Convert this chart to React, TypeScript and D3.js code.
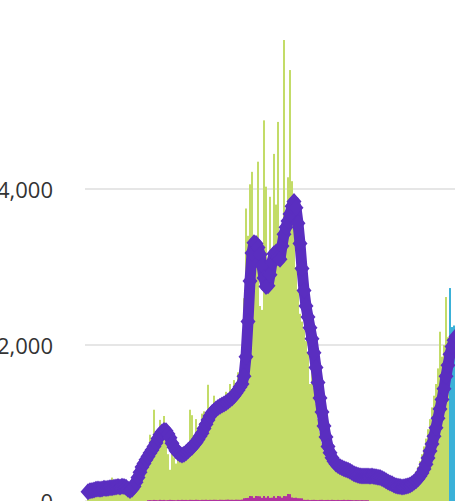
import React from "react";
import * as d3 from "d3";

// y-axis tick values
const yTicks = [0, 2000, 4000];

// daily reported cases (green bars), one value per bar
const dailyCases = [
  110, 140, 130, 160, 150, 170, 140, 150, 180, 160,
  170, 190, 300, 180, 200, 170, 210, 190, 140, 120,
  130, 180, 250, 330, 400, 460, 520, 560, 600, 650,
  700, 850, 760, 1170, 880, 820, 1040, 900, 1090, 800,
  600, 400, 650, 560, 480, 620, 580, 640, 620, 680,
  700, 1170, 1100, 800, 1050, 900, 1000, 1120, 1150, 1080,
  1490, 1200, 1100, 1350, 1250, 1180, 1300, 1320, 1200, 1400,
  1380, 1500, 1300, 1550, 1420, 1650, 1500, 1650, 2600, 3750,
  3400, 4060, 4220, 3200, 3300, 4350, 2500, 2450, 4880, 4030,
  2950, 3900, 3100, 4450, 3800, 4860, 3300, 3500, 5910, 3700,
  4150, 5525, 4100, 3500, 3000, 2700, 2400, 2300, 2200, 2050,
  1900, 1500, 1700, 1450, 1250, 1050, 880, 740, 640, 560,
  500, 460, 440, 420, 430, 400, 390, 380, 370, 360,
  350, 340, 330, 320, 315, 320, 310, 315, 320, 310,
  305, 300, 295, 290, 280, 265, 250, 235, 220, 210,
  200, 190, 180, 175, 170, 175, 180, 190, 200, 215,
  235, 260, 290, 330, 380, 440, 510, 600, 700, 800,
  920, 1050, 1200, 1350, 1500, 1700, 2170, 1850, 2000, 2615,
  2100,
];

// most recent (provisional) days, blue bars, following dailyCases
const provisionalCases = [2730, 2230, 2250, 2300];

// small secondary series at the bottom (magenta bars)
const otherCases = [
  0, 0, 0, 0, 0, 0, 0, 0, 0, 0,
  0, 0, 0, 0, 0, 0, 0, 0, 0, 0,
  0, 0, 0, 0, 0, 0, 0, 0, 0, 0,
  10, 12, 10, 14, 12, 10, 15, 12, 14, 10,
  12, 15, 13, 12, 10, 14, 12, 15, 13, 14,
  12, 15, 14, 13, 16, 14, 12, 15, 14, 16,
  13, 15, 14, 16, 15, 13, 16, 15, 14, 16,
  18, 15, 16, 14, 17, 16, 15, 18,
  35, 38, 40, 64, 62, 40, 64, 62, 60, 40,
  64, 42, 62, 40, 42, 62, 40, 64, 60, 42,
  64, 62, 90, 88, 45, 40, 42, 36, 35, 34,
  15, 14, 16, 12, 14, 15, 13, 12, 14, 15,
  12, 13, 14, 12, 15, 13, 12, 14, 12, 13,
  15, 12, 14, 13, 12, 10, 12, 11, 10, 12,
  10, 11, 10,
  0, 0, 0, 0, 0, 0, 0, 0, 0, 0,
  0, 0, 0, 0, 0, 0, 0, 0, 0, 0,
  0, 0, 0, 0, 0, 0, 0, 0, 0, 0,
  0, 0, 0, 0, 0, 0, 0, 0, 0, 0,
  0, 0, 0, 0,
];

// 7-day average (purple line with diamond markers)
const sevenDayAvg = [
  120, 130, 135, 140, 150, 155, 150, 155, 165, 160,
  165, 170, 170, 175, 180, 185, 180, 190, 185, 175,
  150, 135, 150, 185, 240, 300, 370, 435, 480, 530,
  570, 615, 655, 700, 745, 800, 850, 885, 905, 900,
  860, 810, 740, 690, 645, 620, 600, 590, 600, 620,
  645, 670, 690, 720, 750, 790, 830, 870, 930, 985,
  1040, 1090, 1130, 1155, 1180, 1200, 1215, 1230, 1245, 1260,
  1280, 1300, 1320, 1350, 1385, 1420, 1460, 1500, 1600, 1850,
  2300, 2820, 3180, 3310, 3300, 3250, 3160, 3020, 2860, 2750,
  2760, 2900, 3060, 3170, 3190, 3120, 3100, 3270, 3420, 3510,
  3590, 3680, 3780, 3840, 3760, 3560, 3300, 2980, 2700, 2500,
  2360, 2220, 2080, 1900, 1710, 1520, 1320, 1140, 960, 820,
  700, 620, 555, 510, 475, 455, 440, 425, 415, 405,
  395, 380, 365, 350, 340, 330, 325, 320, 320, 322,
  320, 318, 320, 315, 310, 305, 300, 290, 275, 260,
  245, 230, 220, 205, 195, 190, 185, 180, 182, 188,
  195, 205, 220, 240, 260, 285, 320, 360, 410, 470,
  550, 640, 730, 830, 940, 1060, 1180, 1300, 1440, 1600,
  1740, 1880, 1980, 2060, 2110,
];

const W = 455;
const H = 501;
const GREEN = "#c3dc68";
const PURPLE = "#5a2ec0";
const MAGENTA = "#b0329f";
const BLUE = "#3bb1d8";

export default function App() {
  const n = sevenDayAvg.length;
  const x = d3.scaleLinear().domain([0, n]).range([87, 87 + 2 * n]);
  const y = d3.scaleLinear().domain([0, 4000]).range([501, 189]);
  const bw = (i: number) => x(i + 1) - x(i);
  const cx = (i: number) => x(i) + bw(i) / 2;

  const line = d3
    .line<number>()
    .x((_, i) => cx(i))
    .y((d) => y(d));

  const diamond = "M0,-8.5L7.5,0L0,8.5L-7.5,0Z";

  return (
    <svg
      width={W}
      height={H}
      style={{ position: "absolute", left: 0, top: 0, background: "#fff" }}
    >
      {yTicks.map((t) => (
        <g key={t}>
          <line
            x1={85}
            x2={W}
            y1={y(t)}
            y2={y(t)}
            stroke="#e6e6e6"
            strokeWidth={2}
          />
          <text
            x={53}
            y={y(t)}
            textAnchor="end"
            dominantBaseline="central"
            fontFamily="'Open Sans', sans-serif"
            fontSize={22}
            fill="#333"
          >
            {d3.format(",")(t)}
          </text>
        </g>
      ))}
      <g>
        {dailyCases.map((v, i) => (
          <rect
            key={i}
            x={x(i)}
            y={y(v)}
            width={bw(i)}
            height={y(0) - y(v)}
            fill={GREEN}
          />
        ))}
        {provisionalCases.map((v, k) => {
          const i = dailyCases.length + k;
          return (
            <rect
              key={"p" + k}
              x={x(i)}
              y={y(v)}
              width={bw(i)}
              height={y(0) - y(v)}
              fill={BLUE}
            />
          );
        })}
        {otherCases.map((v, i) =>
          v > 0 ? (
            <rect
              key={"o" + i}
              x={x(i)}
              y={y(v)}
              width={bw(i)}
              height={y(0) - y(v)}
              fill={MAGENTA}
            />
          ) : null
        )}
      </g>
      <path
        d={line(sevenDayAvg) || ""}
        fill="none"
        stroke={PURPLE}
        strokeWidth={11}
        strokeLinejoin="round"
      />
      {sevenDayAvg.map((v, i) => (
        <path
          key={"m" + i}
          d={diamond}
          transform={`translate(${cx(i)},${y(v)})`}
          fill={PURPLE}
        />
      ))}
    </svg>
  );
}
